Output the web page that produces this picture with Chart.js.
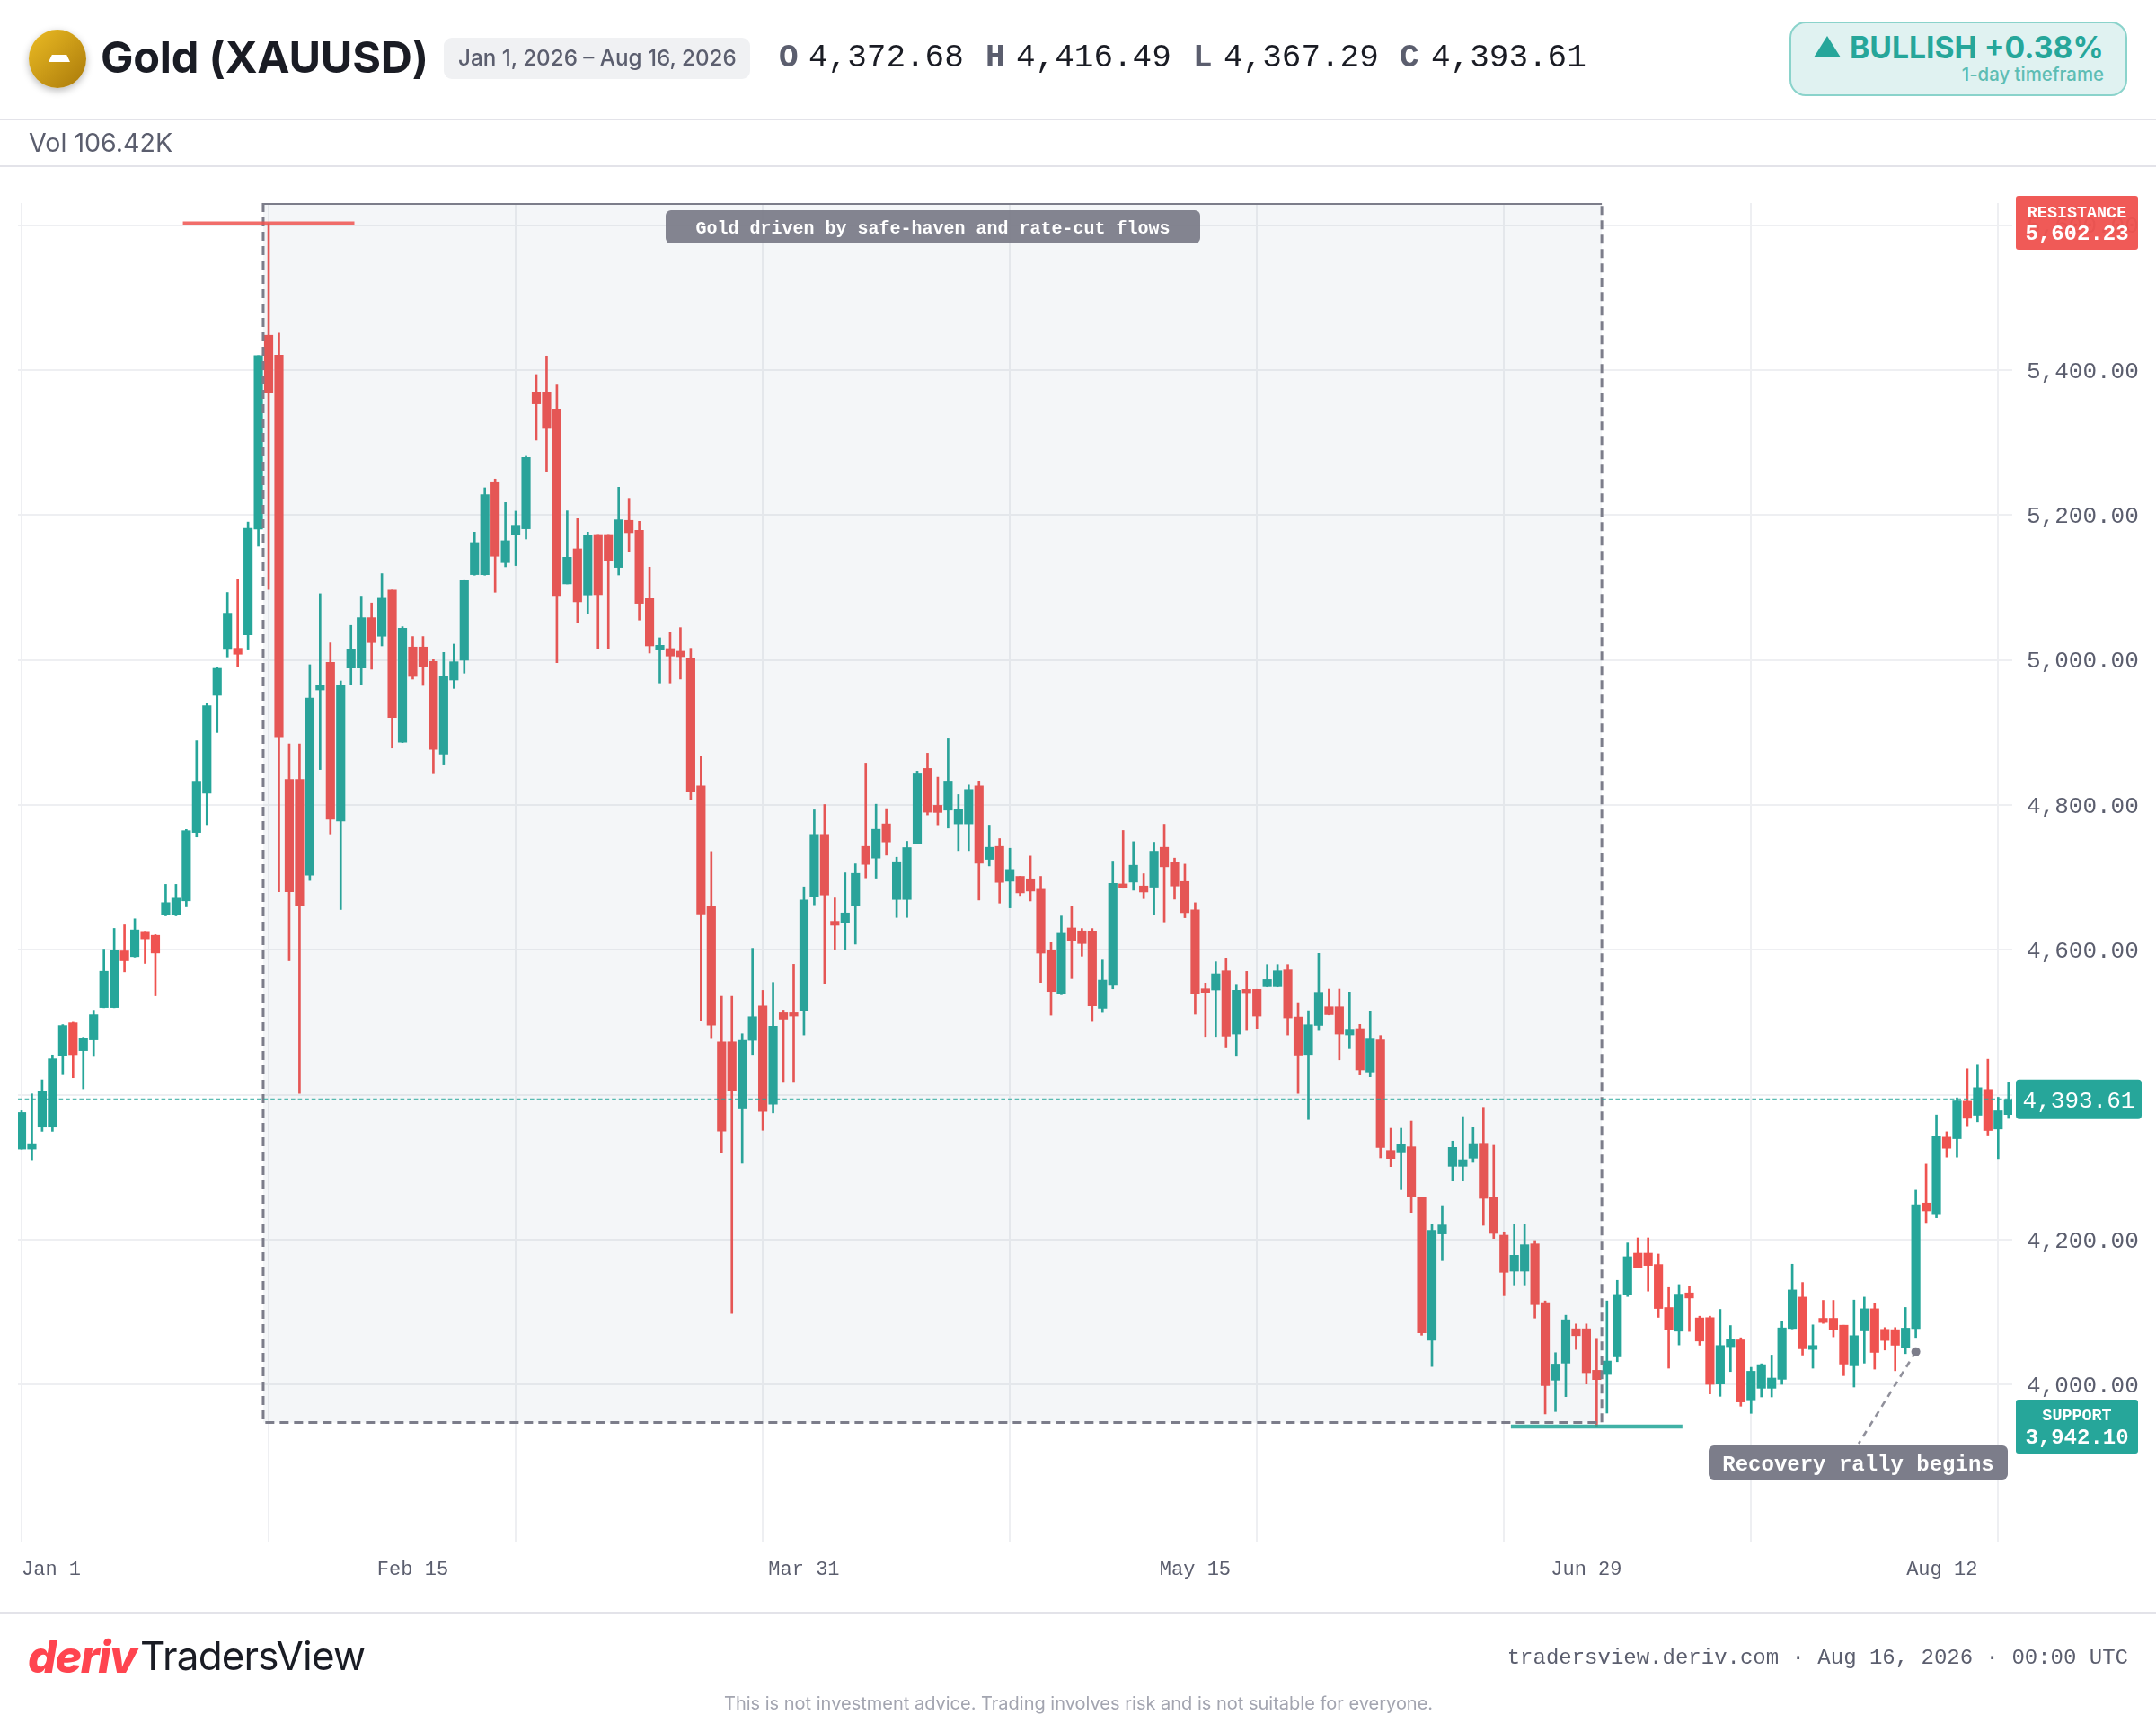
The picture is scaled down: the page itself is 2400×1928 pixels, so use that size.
<!DOCTYPE html>
<html><head><meta charset="utf-8"><title>Gold (XAUUSD)</title>
<script src="https://cdn.jsdelivr.net/npm/chart.js@4"></script>
<style>
html,body{margin:0;padding:0;background:#fff;width:2400px;height:1928px;overflow:hidden}
#wrap{position:relative;width:2400px;height:1928px;overflow:hidden}
canvas{position:absolute;left:0;top:0}
.t{position:absolute;white-space:nowrap;line-height:1}
.sans{font-family:Inter,sans-serif}
.mono{font-family:"Liberation Mono",monospace}
.rule{position:absolute;left:0;width:2400px;height:2px;background:#e3e3e9}
</style></head><body><div id="wrap">
<canvas id="c" width="2400" height="1928"></canvas>
<div style="position:absolute;left:32px;top:33px;width:64px;height:65px;border-radius:50%;background:linear-gradient(135deg,#ecbc24,#a9790a);box-shadow:0 3px 8px rgba(0,0,0,.28)"></div>
<div style="position:absolute;left:54px;top:61px;width:24px;height:8px;background:#fff;clip-path:polygon(16% 0,84% 0,100% 100%,0 100%)"></div>
<div class="t sans" style="left:112px;top:40px;font-size:48.6px;font-weight:700;color:#1a1c24;letter-spacing:-.2px">Gold (XAUUSD)</div>
<div style="position:absolute;left:494px;top:42px;width:341px;height:46px;background:#f0f1f3;border-radius:9px"></div>
<div class="t sans" style="left:510px;top:53px;font-size:24.2px;font-weight:500;color:#5b5e6e">Jan 1, 2026 – Aug 16, 2026</div>
<div class="t mono" style="left:867px;top:47px;font-size:36px;font-weight:700;color:#5b5e6e">O</div>
<div class="t mono" style="left:900px;top:47px;font-size:36px;color:#1a1c24">4,372.68</div>
<div class="t mono" style="left:1097px;top:47px;font-size:36px;font-weight:700;color:#5b5e6e">H</div>
<div class="t mono" style="left:1131px;top:47px;font-size:36px;color:#1a1c24">4,416.49</div>
<div class="t mono" style="left:1328px;top:47px;font-size:36px;font-weight:700;color:#5b5e6e">L</div>
<div class="t mono" style="left:1362px;top:47px;font-size:36px;color:#1a1c24">4,367.29</div>
<div class="t mono" style="left:1558px;top:47px;font-size:36px;font-weight:700;color:#5b5e6e">C</div>
<div class="t mono" style="left:1593px;top:47px;font-size:36px;color:#1a1c24">4,393.61</div>
<div style="position:absolute;left:1992px;top:24px;width:372px;height:79px;background:#e0f2f1;border:2px solid #8ad3cb;border-radius:18px"></div>
<div style="position:absolute;left:2019px;top:40px;width:30px;height:24px;background:#26a69a;clip-path:polygon(50% 0,100% 100%,0 100%)"></div>
<div class="t sans" style="left:2059px;top:36px;font-size:33.7px;font-weight:700;color:#26a69a">BULLISH +0.38%</div>
<div class="t sans" style="right:58px;top:73px;font-size:20.4px;font-weight:500;color:#5dbdb4">1-day timeframe</div>
<div class="rule" style="top:132px"></div>
<div class="t sans" style="left:32px;top:145px;font-size:28.6px;color:#5b5e6e">Vol 106.42K</div>
<div class="rule" style="top:184px"></div>
<div class="rule" style="top:1794px;height:3px"></div>
<div class="t sans" style="left:31px;top:1819px;font-size:50px;font-weight:800;font-style:italic;color:#ff444f;letter-spacing:-1.5px">deriv</div>
<div class="t sans" style="left:156px;top:1821px;font-size:44px;font-weight:400;color:#1a1c24;letter-spacing:-.85px">TradersView</div>
<div class="t mono" style="right:31px;top:1834px;font-size:24px;color:#5b5e6e">tradersview.deriv.com · Aug 16, 2026 · 00:00 UTC</div>
<div class="t sans" style="left:806px;top:1886px;font-size:20px;color:#a3a5b0">This is not investment advice. Trading involves risk and is not suitable for everyone.</div>
</div>
<script>
const dateLabels = ["Jan 1","Feb 15","Mar 31","May 15","Jun 29","Aug 12"];
const dateLabelIndex = [0,38,76,114,152,190];
const gridIndex = [0,24,48,72,96,120,144,168,192];
const priceTicks = [5600,5400,5200,5000,4800,4600,4400,4200,4000];

const opens = [
4325.1,4325.1,4355.3,4355.3,4453.7,4499.2,4460.8,4475.7,4520.3,4520.3,
4598.5,4590.7,4625.4,4620,4649,4649,4667.6,4762,4816.1,4951.2,
5014.5,5016.1,5034.8,5180.6,5448,5420.7,4835.2,4835.2,4703.2,4958.6,
4996.7,4777.7,4988.8,4988.8,5058.3,5032.7,5096.4,4886.6,5017.8,5017.8,
4997.9,4870.1,4972.3,4999.6,5117.8,5117.8,5245.9,5134.3,5172.3,5181,
5369.8,5369.8,5346.3,5105,5153.3,5089.7,5173.1,5173.1,5127.7,5192.6,
5178.9,5084.7,5013.6,5015.7,5012,5002.9,4826.1,4660.4,4473,4473,
4381.6,4475.1,4522.6,4387,4513.1,4513.1,4516.4,4673.6,4759.3,4639.3,
4637.2,4660.8,4742.7,4726.6,4773.8,4669.5,4669.5,4746,4850.3,4799.5,
4792.8,4773.8,4773.8,4826.3,4724.9,4742.7,4694.7,4701.4,4698,4683.6,
4599.6,4538.8,4630.2,4626.1,4626.1,4519.3,4550.8,4691,4693.5,4688.1,
4686.5,4741.5,4720.8,4694.3,4655,4546.2,4544.6,4571,4483.8,4545.4,
4545.4,4549.1,4549.1,4572.3,4507.3,4455.6,4495.7,4521.4,4521.4,4482.6,
4491.3,4431.4,4475.6,4323.1,4321,4328.1,4257.9,4061.2,4207.9,4301.2,
4301.2,4312.4,4333,4259,4206.2,4156.6,4156.6,4194.2,4113,4006.2,
4029.7,4077.1,4077.1,4019.8,4014,4038.3,4124.5,4181.4,4181.4,4165.8,
4106.4,4073.8,4126.6,4092,4092.4,4000.8,4052.4,4061.8,3979,3995,
3995,4007.4,4077.5,4120.8,4048.6,4091.5,4091.5,4082,4026,4074.2,
4104.7,4076.3,4075.9,4051.1,4077.5,4250.5,4235.6,4341.5,4339.4,4391.1,
4371.7,4407.3,4352.7,4372.68];
const closes = [
4375.5,4332.5,4404.9,4449.6,4495.5,4455.4,4478.1,4510.4,4570.4,4599,
4584.9,4627.5,4615.1,4595.6,4665.1,4671.3,4764.4,4832.7,4936.7,4988.4,
5064.5,5007.9,5181.6,5419.9,5369,4894.1,4680,4660.2,4947.5,4965.2,
4780.1,4965.2,5014.5,5058.3,5024,5085.2,4920.6,5043.9,4977.2,4990.9,
4876.7,4977.7,4997.5,5109.5,5162,5228.1,5143,5164.5,5185.9,5279.3,
5353.3,5320.6,5087.6,5141.7,5080.2,5172.7,5090.1,5136.8,5193.4,5175.6,
5078.1,5019.4,5020.2,5005.4,5004.5,4817.8,4649.6,4496.2,4349.7,4405.1,
4475.1,4507.7,4377,4494.5,4504.4,4508.6,4668.7,4759.3,4675.7,4633.9,
4650.9,4705.5,4717.9,4766.3,4748.9,4721.6,4741.1,4842.8,4789.9,4789.6,
4832.9,4794.4,4821.3,4719.6,4741.5,4693.1,4710.9,4678.6,4681.1,4595.4,
4542.5,4622.8,4612.4,4608.7,4522.6,4558.2,4691.8,4685.6,4716.7,4679.8,
4736.1,4714.6,4688.1,4651.3,4539.6,4541.3,4566.9,4480.9,4544.2,4540.8,
4508.6,4559,4571,4506.1,4454.8,4496.6,4541.3,4510.6,4483.8,4489.3,
4434.3,4476.9,4327.3,4312,4331.4,4259.5,4071.5,4212.8,4220.3,4327.3,
4310.3,4332.6,4257,4208.7,4155,4178.5,4193,4110.4,3998.7,4028.4,
4089.5,4067.6,4016.5,4007,4032.6,4124.5,4176.5,4162,4164.5,4105.1,
4076.3,4124.9,4119.6,4060.2,4000.4,4054,4062.3,3976.1,4018.5,4027.6,
4009.1,4078.3,4130.7,4049.5,4054,4085.8,4075.5,4028.4,4067.6,4104.7,
4044.5,4061,4054.4,4078,4248.4,4239.7,4343.1,4326.2,4391.5,4367.5,
4409.7,4350.6,4377.9,4393.61];
const highs = [
4378,4401.2,4420.6,4455,4496.8,4500.1,4479.4,4516.6,4601,4629.6,
4634.5,4642.8,4625.6,4620.9,4690.4,4690.4,4766.1,4888.5,4940,4989.7,
5093.1,5111.7,5190.3,5420,5602.23,5450.9,4884.2,4884.2,4993.4,5091.4,
5023.6,4971,5047.6,5086.9,5078.6,5119.1,5096.5,5045.9,5032.3,5032.3,
5000.4,5010.3,5021.9,5109.6,5176.4,5237.6,5249.6,5217.3,5205.4,5281,
5393.8,5419.4,5379.3,5205.8,5195,5176.4,5173.2,5173.2,5238.4,5223.1,
5191.3,5128.1,5030.6,5037.6,5044.6,5016.1,4867.4,4735.7,4535.9,4535.9,
4484.2,4602.1,4544.1,4554.9,4516.8,4580.1,4686.9,4793.2,4800.6,4671.6,
4706.3,4718.7,4857.7,4801,4794.9,4727.8,4749.8,4846.6,4871.4,4838.3,
4891.2,4814.3,4827.5,4833,4772.1,4753.5,4740.2,4701.5,4729.5,4701.4,
4609.9,4646.7,4660.4,4629.4,4629.4,4585.9,4722.5,4764.7,4749.3,4705.1,
4748.5,4773.3,4726.6,4718.3,4665,4554.1,4583.5,4588.8,4552.4,4570.2,
4545.5,4579.7,4579.7,4579.7,4527.2,4516,4595,4545.8,4545.8,4541.7,
4497.1,4515.7,4481.8,4353.7,4353.7,4363.6,4258,4220.7,4247.1,4336,
4369.8,4355,4382.6,4330.2,4210.8,4221.5,4221.5,4198.8,4115.5,4044.1,
4095.7,4083.7,4083.7,4063.9,4115.5,4143.9,4195.5,4202.5,4202.5,4180.2,
4134,4138.1,4135.3,4094.4,4094.4,4103.9,4081.6,4064.7,4023.9,4028.8,
4040.8,4087,4166.2,4141,4082.5,4116.3,4116.3,4082,4116.7,4120.8,
4112.2,4078.8,4078.8,4106.5,4268.3,4304.3,4372.1,4348.9,4395.7,4435.8,
4442,4449,4396.5,4416.49];
const lows = [
4325,4310.2,4349.5,4349.5,4427.7,4423.5,4408.2,4452.9,4520,4520,
4569.6,4590,4581.2,4536.5,4646.9,4646.9,4659.3,4755.7,4772.7,4899.9,
5004.1,4990.1,5013.7,5157,5097.4,4680,4584.9,4402,4695.7,4848.8,
4759.9,4655.6,4965.7,4965.7,4987.2,5019.4,4878.4,4886,4973.5,4964.8,
4843,4855,4960.7,4981.8,5117,5117,5093.4,5128.5,5130.2,5166.9,
5303.3,5260.3,4996.3,5105,5050.8,5063.2,5014.9,5014.9,5117.3,5149.2,
5055,5009.5,4968.2,4968.2,4973.6,4807.4,4502.4,4477.5,4319.9,4098,
4305.4,4455.6,4350.9,4375,4417,4417,4482.5,4662.1,4553.7,4600.8,
4600.8,4607.9,4699.3,4698.9,4730.7,4644.7,4644.7,4746,4786.2,4772.5,
4768,4736.9,4736.9,4668.7,4715.8,4664.5,4657.9,4674.9,4667.4,4554.9,
4509.8,4538,4560.3,4591.3,4501.1,4513.5,4546.2,4685,4682.3,4670.7,
4648,4638.5,4669.9,4644.3,4511.1,4480.4,4480.4,4464.7,4453.1,4488.7,
4491.6,4548.7,4548.7,4482.5,4401.8,4365.8,4488.7,4510.2,4448.2,4463.6,
4427.3,4424.8,4312.8,4300.8,4269,4237.6,4068.2,4025,4171.1,4281,
4281,4306.6,4219.8,4201.7,4122.7,4137.6,4137.6,4091.8,3959.6,3962.9,
3983.5,4048.6,4000.8,3942.1,3960.8,4031.7,4121.6,4162,4129.1,4092.8,
4022.7,4054.8,4073.4,4054.4,3987.2,3983.9,4018.1,3970.3,3960.4,3983.1,
3983.1,4000.4,4077,4040.8,4022.7,4084.5,4066,4012.4,3996.7,4029.7,
4021.4,4047.8,4019.2,4042.8,4065.1,4223.6,4230.2,4313.8,4313.8,4357.2,
4362.6,4344.4,4311.7,4367.29];

const lastPrice = 4393.61;
const resistance = 5602.23;
const support = 3942.10;
const UP = "#26a69a", DOWN = "#ef5350", GREY = "#7c7d8a";
const MONO = '"Liberation Mono", monospace';

const candleColors = closes.map((c,i)=> c>=opens[i] ? UP : DOWN);
const wickData = lows.map((l,i)=>({x:i,y:[l,highs[i]]}));
const bodyData = opens.map((o,i)=>({x:i,y:[o,closes[i]]}));

function money(v){return v.toLocaleString("en-US",{minimumFractionDigits:2,maximumFractionDigits:2});}
function rr(ctx,x,y,w,h,r,fill){ctx.beginPath();ctx.roundRect(x,y,w,h,r);ctx.fillStyle=fill;ctx.fill();}
function txt(ctx,s,x,y,font,col){ctx.font=font;ctx.fillStyle=col;ctx.textAlign="center";ctx.textBaseline="middle";ctx.fillText(s,x,y+1.5);}

const labelNudge = {
  id:"labelNudge",
  beforeDraw(chart){
    chart.scales.y.getLabelItems().forEach(it=>{
      if(!it.nudged){it.options.translation[1]+=1.8;it.nudged=true;}
    });
  }
};

const overlays = {
  id:"overlays",
  afterDatasetsDraw(chart){
    const {ctx,chartArea:a,scales:{x,y}} = chart;
    ctx.save();
    const bx0=x.getPixelForValue(23.47), bx1=x.getPixelForValue(153.5), by1=y.getPixelForValue(3947.6);
    ctx.fillStyle="rgba(100,122,150,0.07)";
    ctx.fillRect(bx0,a.top,bx1-bx0,by1-a.top);
    ctx.strokeStyle=GREY;ctx.lineWidth=3;ctx.setLineDash([10,6]);
    ctx.beginPath();ctx.moveTo(bx0,a.top);ctx.lineTo(bx0,by1);ctx.lineTo(bx1,by1);ctx.lineTo(bx1,a.top);ctx.stroke();
    ctx.setLineDash([]);ctx.lineWidth=2;
    ctx.beginPath();ctx.moveTo(bx0,a.top+1);ctx.lineTo(bx1,a.top+1);ctx.stroke();
    const py=y.getPixelForValue(lastPrice);
    ctx.strokeStyle="rgba(38,166,154,0.75)";ctx.lineWidth=2;ctx.setLineDash([4.6,3]);
    ctx.beginPath();ctx.moveTo(a.left,py);ctx.lineTo(a.right,py);ctx.stroke();
    ctx.setLineDash([]);
    const ry=y.getPixelForValue(resistance), sy=y.getPixelForValue(support);
    ctx.strokeStyle="rgba(239,83,80,0.85)";ctx.lineWidth=4.6;
    ctx.beginPath();ctx.moveTo(x.getPixelForValue(24-8.33),ry);ctx.lineTo(x.getPixelForValue(24+8.33),ry);ctx.stroke();
    ctx.strokeStyle="rgba(38,166,154,0.88)";
    ctx.beginPath();ctx.moveTo(x.getPixelForValue(153-8.33),sy);ctx.lineTo(x.getPixelForValue(153+8.33),sy);ctx.stroke();
    ctx.globalAlpha=.95;
    rr(ctx,741,234,595,37,6,GREY);
    ctx.globalAlpha=1;
    txt(ctx,"Gold driven by safe-haven and rate-cut flows",1038.5,253,"bold 20px "+MONO,"#fff");
    const dx=x.getPixelForValue(184), dy=y.getPixelForValue(4045.4);
    ctx.strokeStyle="rgba(124,125,138,0.85)";ctx.lineWidth=2.6;ctx.setLineDash([7,6]);
    ctx.beginPath();ctx.moveTo(dx,dy);ctx.lineTo(2069,1607);ctx.stroke();ctx.setLineDash([]);
    ctx.beginPath();ctx.arc(dx,dy,5,0,Math.PI*2);ctx.fillStyle=GREY;ctx.fill();
    rr(ctx,1902,1609,333,38,6,GREY);
    txt(ctx,"Recovery rally begins",2068.5,1629,"bold 24px "+MONO,"#fff");
    ctx.globalAlpha=.96;
    rr(ctx,2244,218,136,60,3,DOWN);
    ctx.globalAlpha=1;
    txt(ctx,"RESISTANCE",2312,235.5,"bold 18.4px "+MONO,"#fff");
    txt(ctx,money(resistance),2312,259.5,"bold 24px "+MONO,"#fff");
    rr(ctx,2244,1558,136,60,3,UP);
    txt(ctx,"SUPPORT",2312,1574.5,"bold 18.4px "+MONO,"#fff");
    txt(ctx,money(support),2312,1599,"bold 24px "+MONO,"#fff");
    rr(ctx,2244,py-22,140,44,4,UP);
    txt(ctx,money(lastPrice),2314,py+.5,"26px "+MONO,"#fff");
    ctx.restore();
  }
};

new Chart(document.getElementById("c"),{
  type:"bar",
  data:{datasets:[
    {label:"Wick",data:wickData,backgroundColor:candleColors,barThickness:2,grouped:false,order:2,xAxisID:"x",yAxisID:"y"},
    {label:"Body",data:bodyData,backgroundColor:candleColors,barThickness:9.5,grouped:false,order:1,xAxisID:"x",yAxisID:"y"}
  ]},
  plugins:[labelNudge,overlays],
  options:{
    responsive:false,animation:false,devicePixelRatio:1,
    layout:{padding:{left:20,top:226,right:0,bottom:0}},
    plugins:{legend:{display:false},tooltip:{enabled:false},title:{display:false}},
    scales:{
      x:{type:"linear",position:"bottom",min:-0.349,max:193.37,offset:false,
        grid:{offset:false,color:"#eeeff2",lineWidth:2,drawTicks:false},border:{display:false},
        ticks:{display:false},
        afterBuildTicks(s){s.ticks=gridIndex.map(v=>({value:v}));},
        afterFit(s){s.height=0;}},
      xl:{type:"linear",position:"bottom",min:-0.349,max:193.37,offset:false,
        grid:{display:false,offset:false,drawTicks:false},border:{display:false},
        ticks:{align:"inner",maxRotation:0,autoSkip:false,padding:18,color:"#5b5e6e",font:{family:MONO,size:22},
          callback(v){const k=dateLabelIndex.indexOf(v);return k<0?"":dateLabels[k];}},
        afterBuildTicks(s){s.ticks=dateLabelIndex.map(v=>({value:v}));},
        afterFit(s){s.height=212;}},
      y:{type:"linear",position:"right",min:3783.5,max:5630.5,
        grid:{color:"#eeeff2",lineWidth:2,drawTicks:false},border:{display:false},
        ticks:{align:"center",padding:16,color:"#5b5e6e",crossAlign:"near",font:{family:MONO,size:26},autoSkip:false,
          callback(v){return money(v);}},
        afterBuildTicks(s){s.ticks=priceTicks.map(v=>({value:v}));},
        afterFit(s){s.width=160;}}
    }
  }
});
</script></body></html>
